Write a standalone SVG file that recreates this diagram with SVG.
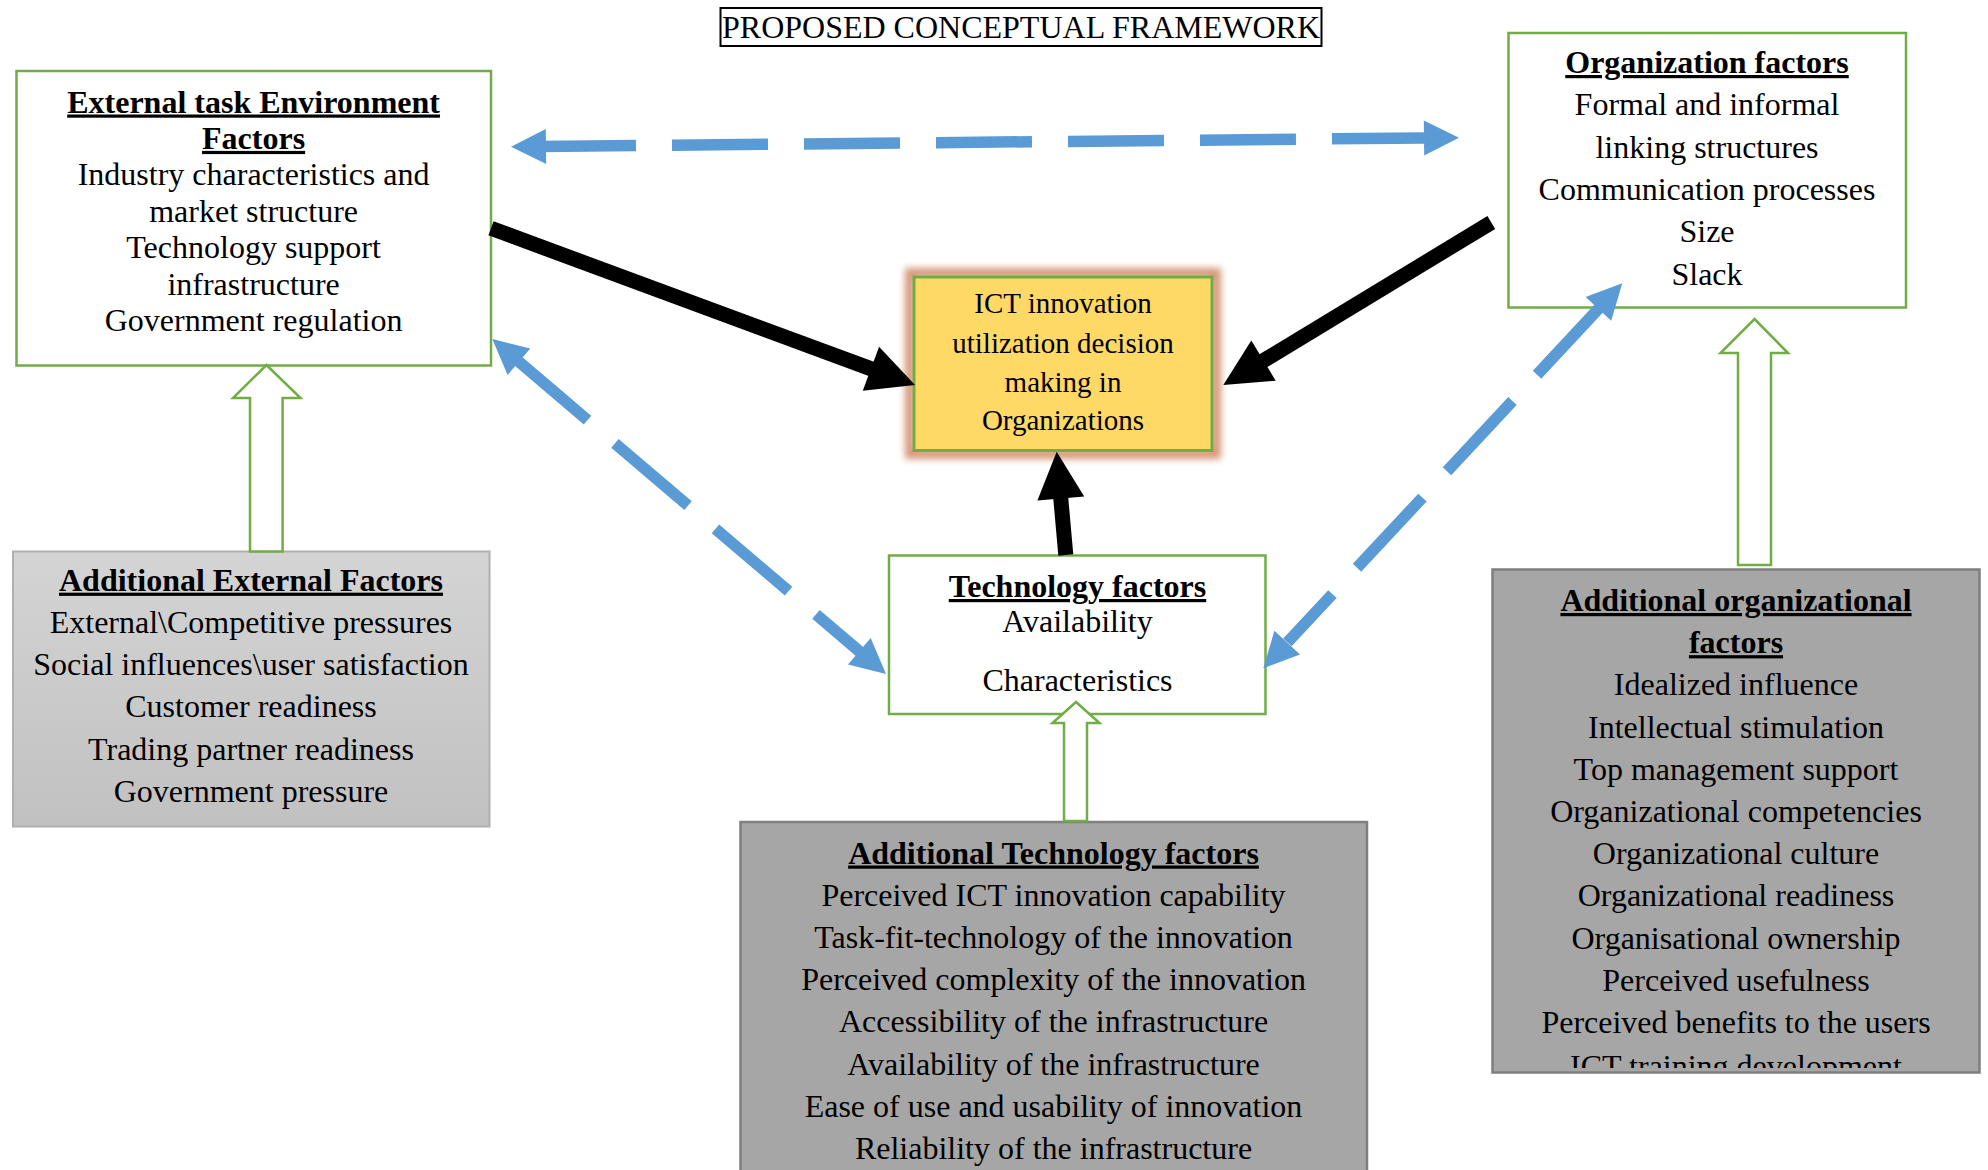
<svg xmlns="http://www.w3.org/2000/svg" width="1988" height="1170" viewBox="0 0 1988 1170">
<style>
.t{font-family:"Liberation Serif","Times New Roman",serif;font-size:32px;fill:#000;text-anchor:middle}
.c{font-size:29px}
.b{font-weight:bold;text-decoration:underline}
.gbox{fill:#fff;stroke:#70ad47;stroke-width:2.5}
.hollow{fill:#fff;stroke:#70ad47;stroke-width:2.5;stroke-linejoin:miter}
.dash{stroke:#5b9bd5;stroke-width:11.5;stroke-dasharray:96 36;fill:none}
.bh{fill:#5b9bd5}
.blk{stroke:#000;stroke-width:15;fill:none}
.kh{fill:#000}
.dg{fill:#a6a6a6;stroke:#7f7f7f;stroke-width:2.5}
</style>
<defs>
<linearGradient id="lg" x1="0" y1="0" x2="0" y2="1">
<stop offset="0" stop-color="#d4d4d4"/>
<stop offset="1" stop-color="#c1c1c1"/>
</linearGradient>
<filter id="glow" x="-20%" y="-20%" width="140%" height="140%">
<feGaussianBlur stdDeviation="3.5"/>
</filter>
<clipPath id="clipOrg">
<rect x="1492" y="569" width="490" height="499"/>
</clipPath>
</defs>
<rect width="1988" height="1170" fill="#fff"/>

<g id="title">
<rect x="720.5" y="8" width="601" height="38" fill="#fff" stroke="#000" stroke-width="2"/>
<text class="t" x="1021" y="37.5">PROPOSED CONCEPTUAL FRAMEWORK</text>
</g>

<g id="external">
<rect class="gbox" x="16.5" y="71" width="474.5" height="294.5"/>
<text class="t b" x="253.6" y="112.5">External task Environment</text>
<text class="t b" x="253.6" y="148.9">Factors</text>
<text class="t" x="253.6" y="185.3">Industry characteristics and</text>
<text class="t" x="253.6" y="221.7">market structure</text>
<text class="t" x="253.6" y="258.1">Technology support</text>
<text class="t" x="253.6" y="294.5">infrastructure</text>
<text class="t" x="253.6" y="330.9">Government regulation</text>
</g>

<g id="organization">
<rect class="gbox" x="1508.5" y="33" width="397.5" height="274.5"/>
<text class="t b" x="1707" y="73">Organization factors</text>
<text class="t" x="1707" y="115.3">Formal and informal</text>
<text class="t" x="1707" y="157.6">linking structures</text>
<text class="t" x="1707" y="199.9">Communication processes</text>
<text class="t" x="1707" y="242.2">Size</text>
<text class="t" x="1707" y="284.5">Slack</text>
</g>

<g id="decision">
<rect x="910" y="273" width="306" height="181" fill="none" stroke="#c4693c" stroke-width="10" opacity="0.7" filter="url(#glow)"/>
<rect x="914" y="277" width="298" height="173.5" fill="#ffd966" stroke="#70ad47" stroke-width="3"/>
<text class="t c" x="1063" y="313.3">ICT innovation</text>
<text class="t c" x="1063" y="352.5">utilization decision</text>
<text class="t c" x="1063" y="391.5">making in</text>
<text class="t c" x="1063" y="430">Organizations</text>
</g>

<g id="technology">
<rect class="gbox" x="889" y="555.5" width="376.5" height="158.5"/>
<text class="t b" x="1077.5" y="597">Technology factors</text>
<text class="t" x="1077.5" y="632">Availability</text>
<text class="t" x="1077.5" y="691">Characteristics</text>
</g>

<g id="additional-external">
<rect x="13" y="551.5" width="476.5" height="275" fill="url(#lg)" stroke="#b0b0b0" stroke-width="2"/>
<text class="t b" x="251" y="590.7">Additional External Factors</text>
<text class="t" x="251" y="632.9">External\Competitive pressures</text>
<text class="t" x="251" y="675.1">Social influences\user satisfaction</text>
<text class="t" x="251" y="717.3">Customer readiness</text>
<text class="t" x="251" y="759.5">Trading partner readiness</text>
<text class="t" x="251" y="801.7">Government pressure</text>
</g>

<g id="additional-technology">
<rect class="dg" x="740.5" y="822" width="626.5" height="360"/>
<text class="t b" x="1053.5" y="863.5">Additional Technology factors</text>
<text class="t" x="1053.5" y="905.7">Perceived ICT innovation capability</text>
<text class="t" x="1053.5" y="947.9">Task-fit-technology of the innovation</text>
<text class="t" x="1053.5" y="990.1">Perceived complexity of the innovation</text>
<text class="t" x="1053.5" y="1032.3">Accessibility of the infrastructure</text>
<text class="t" x="1053.5" y="1074.5">Availability of the infrastructure</text>
<text class="t" x="1053.5" y="1116.7">Ease of use and usability of innovation</text>
<text class="t" x="1053.5" y="1158.9">Reliability of the infrastructure</text>
</g>

<g id="additional-organizational">
<rect class="dg" x="1492.5" y="569.5" width="487" height="503"/>
<text class="t b" x="1736" y="611">Additional organizational</text>
<text class="t b" x="1736" y="653.2">factors</text>
<text class="t" x="1736" y="695.4">Idealized influence</text>
<text class="t" x="1736" y="737.6">Intellectual stimulation</text>
<text class="t" x="1736" y="779.8">Top management support</text>
<text class="t" x="1736" y="822">Organizational competencies</text>
<text class="t" x="1736" y="864.2">Organizational culture</text>
<text class="t" x="1736" y="906.4">Organizational readiness</text>
<text class="t" x="1736" y="948.6">Organisational ownership</text>
<text class="t" x="1736" y="990.8">Perceived usefulness</text>
<text class="t" x="1736" y="1033">Perceived benefits to the users</text>
<text class="t" x="1736" y="1077" clip-path="url(#clipOrg)">ICT training development</text>
</g>

<g id="connectors">
<polygon class="hollow" points="266.5,365 300.5,398 282.6,398 282.6,551.5 250,551.5 250,398 233,398"/>
<polygon class="hollow" points="1076,702 1099.5,723 1087,723 1087,821 1064,821 1064,723 1052.5,723"/>
<polygon class="hollow" points="1754.5,319 1788,353 1771,353 1771,565 1738,565 1738,353 1720.5,353"/>

<line class="dash" x1="540" y1="146.4" x2="1424" y2="138"/>
<polygon class="bh" points="511,146.7 546.2,163.9 545.8,128.9"/>
<polygon class="bh" points="1459,137.7 1424.2,155.5 1423.8,120.5"/>

<line class="dash" x1="514.4" y1="357.8" x2="865.4" y2="656.5"/>
<polygon class="bh" points="492.3,339 530.3,348.4 507.6,375"/>
<polygon class="bh" points="886,674 870.7,638 848,664.6"/>

<line class="dash" x1="1602.5" y1="304.5" x2="1287.4" y2="642.4"/>
<polygon class="bh" points="1622.3,283.3 1611.2,320.8 1585.6,297"/>
<polygon class="bh" points="1263.3,668.3 1300,654.6 1274.4,630.8"/>

<line class="blk" x1="491" y1="228.3" x2="872" y2="369.1"/>
<polygon class="kh" points="915,385 879.1,346.7 862.8,390.7"/>
<line class="blk" x1="1491.3" y1="222.5" x2="1262.5" y2="361.2"/>
<polygon class="kh" points="1223.3,385 1251.3,340.5 1275.7,380.7"/>
<line class="blk" x1="1065.8" y1="555" x2="1060.7" y2="497.5"/>
<polygon class="kh" points="1056.7,451.7 1084.2,496.4 1037.4,500.6"/>
</g>
</svg>
